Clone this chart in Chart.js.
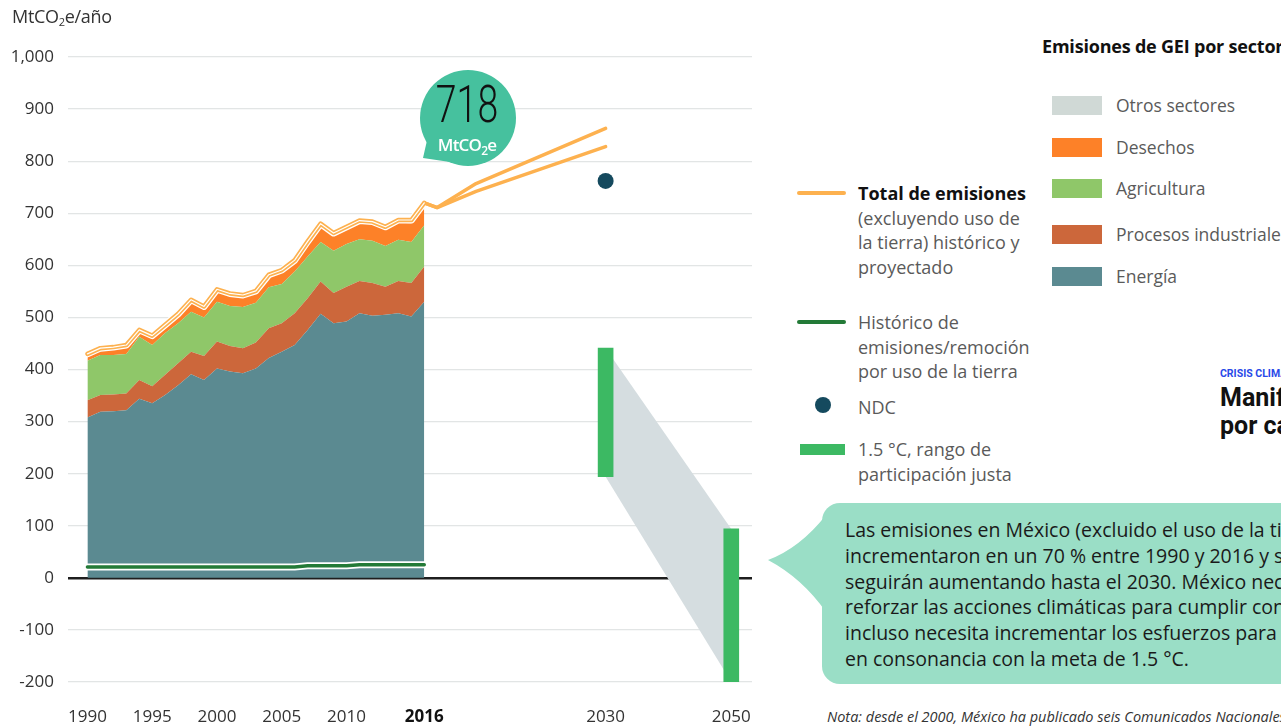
<!DOCTYPE html>
<html lang="es">
<head>
<meta charset="utf-8">
<title>Emisiones de GEI de México</title>
<script src="https://cdn.jsdelivr.net/npm/chart.js@4.4.1/dist/chart.umd.min.js"></script>
<style>
  html,body{margin:0;padding:0;background:#fff;}
  body{width:1281px;height:728px;overflow:hidden;position:relative;font-family:'Open Sans',sans-serif;color:#5a5a5a;}
  #wrap{position:absolute;left:0;top:0;width:780px;height:728px;}
  .abs{position:absolute;white-space:nowrap;}
  .ytitle{left:12px;top:4px;font-size:18px;color:#333;letter-spacing:-0.3px;}
  .ytitle sub{font-size:11px;vertical-align:-3px;}
  .leg{font-size:18px;line-height:24.5px;color:#5a5a5a;}
  .leg b{color:#111;}
  .sw{position:absolute;}
  .sec{font-size:17.5px;line-height:24px;color:#5a5a5a;}
  .callout{left:822px;top:503px;width:520px;height:181px;border-radius:18px;background:#9adec6;}
  .callout div{position:absolute;left:23px;top:14px;font-size:19.5px;line-height:25.8px;color:#1a1a1a;white-space:nowrap;}
  .nota{left:827px;top:708px;font-size:14.5px;font-style:italic;color:#333;line-height:18px;}
</style>
</head>
<body>
<div id="wrap"><canvas id="chart" width="780" height="728"></canvas></div>

<div class="abs ytitle">MtCO<sub>2</sub>e/año</div>

<svg class="abs" style="left:400px;top:60px" width="140" height="120">
  <path d="M 28 76 L 23 98 L 50 102 Z" fill="#46c19e"/>
  <circle cx="68" cy="58" r="48" fill="#46c19e"/>
  <text transform="translate(67,62) scale(0.72,1)" text-anchor="middle" font-family="Roboto" font-weight="300" font-size="52" fill="#111">718</text>
  <text x="67" y="91" text-anchor="middle" font-family="Open Sans" font-size="17" font-weight="600" fill="#fff" letter-spacing="-0.8">MtCO<tspan font-size="12" dy="4">2</tspan><tspan dy="-4">e</tspan></text>
</svg>

<!-- leyenda de líneas -->
<div class="sw" style="left:797px;top:191px;width:49px;height:4px;border-radius:2px;background:#fdb14f"></div>
<div class="abs leg" style="left:858px;top:181px"><b>Total de emisiones</b><br>(excluyendo uso de<br>la tierra) histórico y<br>proyectado</div>
<div class="sw" style="left:797px;top:320px;width:49px;height:4px;border-radius:2px;background:#237a37"></div>
<div class="abs leg" style="left:858px;top:310px">Histórico de<br>emisiones/remoción<br>por uso de la tierra</div>
<div class="sw" style="left:815px;top:397px;width:16px;height:16px;border-radius:50%;background:#154a5e"></div>
<div class="abs leg" style="left:858px;top:395px">NDC</div>
<div class="sw" style="left:800px;top:444px;width:45px;height:11px;background:#3cb963"></div>
<div class="abs leg" style="left:858px;top:437px">1.5 °C, rango de<br>participación justa</div>

<!-- leyenda de sectores -->
<div class="abs" style="left:1042px;top:34px;font-size:18px;font-weight:700;color:#111;letter-spacing:-0.2px">Emisiones de GEI por sector</div>
<div class="sw" style="left:1052px;top:96px;width:50px;height:19px;background:#d0d9d6"></div>
<div class="abs sec" style="left:1116px;top:93px">Otros sectores</div>
<div class="sw" style="left:1052px;top:138px;width:50px;height:19px;background:#fd8128"></div>
<div class="abs sec" style="left:1116px;top:135px">Desechos</div>
<div class="sw" style="left:1052px;top:179px;width:50px;height:19px;background:#8fc769"></div>
<div class="abs sec" style="left:1116px;top:176px">Agricultura</div>
<div class="sw" style="left:1052px;top:225px;width:50px;height:19px;background:#cc673b"></div>
<div class="abs sec" style="left:1116px;top:222px">Procesos industriales</div>
<div class="sw" style="left:1052px;top:267px;width:50px;height:19px;background:#5b8a91"></div>
<div class="abs sec" style="left:1116px;top:264px">Energía</div>

<div class="abs" style="left:1220px;top:367px;font-family:Roboto,sans-serif;font-size:10.5px;font-weight:700;color:#2a49e8">CRISIS CLIMÁTICA</div>
<div class="abs" style="left:1220px;top:384px;font-family:Roboto,sans-serif;font-size:25px;line-height:28px;font-weight:700;color:#111">Manifestación<br>por cambio</div>

<svg class="abs" style="left:760px;top:500px" width="70" height="130">
  <path d="M 66 15 Q 40 48 8 60 Q 42 78 66 112 Z" fill="#9adec6"/>
</svg>
<div class="abs callout"><div>Las emisiones en México (excluido el uso de la tierra) se<br>incrementaron en un 70 % entre 1990 y 2016 y se prevé que<br>seguirán aumentando hasta el 2030. México necesita<br>reforzar las acciones climáticas para cumplir con su NDC e<br>incluso necesita incrementar los esfuerzos para lograr una<br>en consonancia con la meta de 1.5 °C.</div></div>
<div class="abs nota">Nota: desde el 2000, México ha publicado seis Comunicados Nacionales ante la CMNUCC</div>

<script>
const years = [1990,1991,1992,1993,1994,1995,1996,1997,1998,1999,2000,2001,2002,2003,2004,2005,2006,2007,2008,2009,2010,2011,2012,2013,2014,2015,2016];
const energia = [308,319,320,322,344,335,351,370,391,380,402,396,393,402,422,434,447,476,507,489,492,508,503,505,508,502,530];
const procesos = [33,32,32,32,36,33,39,42,43,46,52,49,48,50,57,55,61,61,62,58,67,62,63,54,62,64,68];
const agricultura = [76,77,76,76,83,79,80,77,77,74,76,77,79,76,79,75,80,80,76,81,82,80,81,78,79,79,79];
const desechos = [7,8,10,12,8,12,11,13,18,16,19,19,18,18,19,22,19,24,29,29,28,31,32,32,33,36,37];
const otros = [4,4,4,4,4,4,4,4,4,4,4,4,4,4,4,4,4,4,4,4,4,4,4,4,4,4,4];
const totalHist = [430,441,443,447,476,465,486,507,534,521,554,546,543,551,582,591,610,646,680,662,674,686,684,674,687,687,720];
const usoTierra = [21,21,21,21,21,21,21,21,21,21,21,21,21,21,21,21,21,23,23,23,23,25,25,25,25,25,25];

const projYears = [2016,2017,2020,2030];
const projAlta = [720,711,757,863];
const projBaja = [720,711,742,828];

const ndcYears = [2030];
const ndcValues = [762];

const rangoYears = [2030,2050];
const rangoMin = [194,-200];
const rangoMax = [441,94];

const xTickYears = [1990,1995,2000,2005,2010,2016,2030,2050];
const xTickLabels = ['1990','1995','2000','2005','2010','2016','2030','2050'];

// después de 2030 el eje va comprimido
function pos(y){ return y <= 2030 ? y : 2030 + (y - 2030) * 0.485; }
const pts = (xs, ys) => xs.map((x, i) => ({x: pos(x), y: ys[i]}));

const FONT = 'Open Sans';
const area = (label, vals, color, fill) => ({
  label, data: pts(years, vals), backgroundColor: color, borderWidth: 0,
  pointRadius: 0, tension: 0, fill, stack: 'sectores', order: 10
});
const line = (label, xs, vals, color, width, stack, order) => ({
  label, data: pts(xs, vals), borderColor: color, borderWidth: width,
  pointRadius: 0, tension: 0, fill: false, stack, order,
  borderCapStyle: 'round', borderJoinStyle: 'round'
});

new Chart(document.getElementById('chart'), {
  type: 'line',
  data: {
    datasets: [
      area('Energía', energia, '#5b8a91', 'origin'),
      area('Procesos industriales', procesos, '#cc673b', '-1'),
      area('Agricultura', agricultura, '#8fc769', '-1'),
      area('Desechos', desechos, '#fd8128', '-1'),
      area('Otros sectores', otros, '#d0d9d6', '-1'),
      line('borde total', years, totalHist, '#ffffff', 7, 't1', 6),
      line('Total de emisiones', years, totalHist, '#fdb14f', 4.5, 't2', 5),
      line('centro total', years, totalHist, '#ffffff', 1.2, 't3', 4),
      line('Proyección alta', projYears, projAlta, '#fdb14f', 3.5, 'p1', 5),
      line('Proyección baja', projYears, projBaja, '#fdb14f', 3.5, 'p2', 5),
      line('borde uso de la tierra', years, usoTierra, '#ffffff', 7, 'u1', 3),
      line('Uso de la tierra', years, usoTierra, '#237a37', 3.5, 'u2', 2),
      {label: 'rango sup', data: pts(rangoYears, rangoMax), borderWidth: 0, pointRadius: 0,
       fill: 13, backgroundColor: '#d5dde0', stack: 'b1', order: 8},
      {label: 'rango inf', data: pts(rangoYears, rangoMin), borderWidth: 0, pointRadius: 0,
       fill: false, stack: 'b2', order: 8},
      {type: 'bar', label: '1.5 °C, rango de participación justa',
       data: rangoYears.map((y, i) => ({x: pos(y), y: [rangoMin[i], rangoMax[i]]})),
       backgroundColor: '#3cb963', barThickness: 15, stack: 'r', order: 1},
      {label: 'NDC', data: pts(ndcYears, ndcValues), showLine: false, pointRadius: 8,
       pointBackgroundColor: '#154a5e', pointBorderWidth: 0, stack: 'n', order: 0}
    ]
  },
  options: {
    responsive: false,
    animation: false,
    events: [],
    layout: {padding: {top: 57, right: 28, left: 0, bottom: 0}},
    plugins: {legend: {display: false}, tooltip: {enabled: false}},
    scales: {
      x: {
        type: 'linear', min: 1988.5, max: 2041.3, offset: false,
        grid: {display: false}, border: {display: false},
        afterBuildTicks: a => { a.ticks = xTickYears.map(y => ({value: pos(y)})); },
        afterFit: s => { s.height = 46; },
        ticks: {
          autoSkip: false, maxRotation: 0, padding: 17,
          color: c => (c.tick && c.tick.value === pos(2016)) ? '#111' : '#333',
          font: c => ({family: FONT, size: 17, weight: (c.tick && c.tick.value === pos(2016)) ? '700' : '400'}),
          callback: v => xTickLabels[xTickYears.findIndex(y => pos(y) === v)]
        }
      },
      y: {
        stacked: true, min: -200, max: 1000, z: 1,
        border: {display: false},
        afterFit: s => { s.width = 68; },
        grid: {
          drawTicks: false,
          color: c => c.tick.value === 0 ? '#1e1e1e' : 'rgba(190,198,198,0.45)',
          lineWidth: c => c.tick.value === 0 ? 2.5 : 1.2
        },
        ticks: {stepSize: 100, padding: 14, color: '#333', font: {family: FONT, size: 17}}
      }
    }
  }
});
</script>
</body>
</html>
